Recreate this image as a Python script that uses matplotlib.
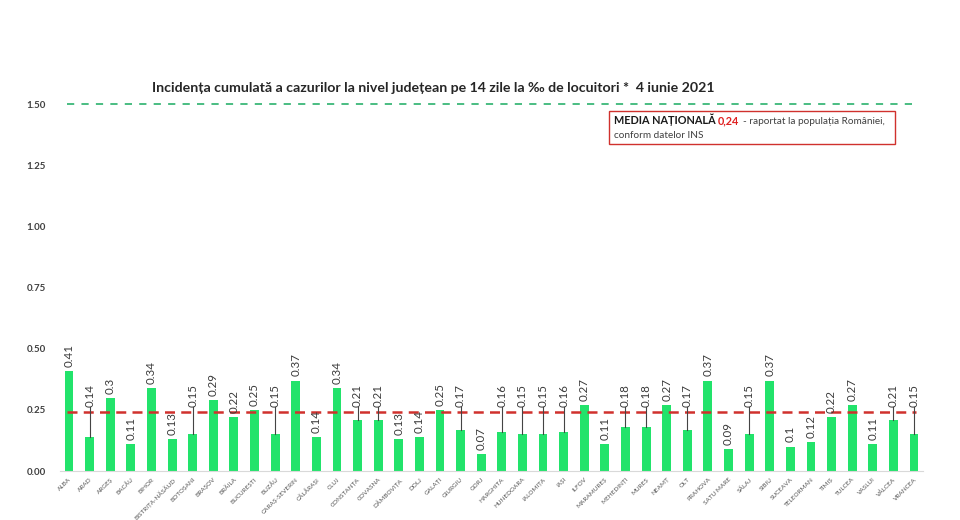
import matplotlib
matplotlib.use('Agg')
import matplotlib.pyplot as plt
from matplotlib.patches import Rectangle

counties = ["ALBA", "ARAD", "ARGEȘ", "BACĂU", "BIHOR", "BISTRIȚA-NĂSĂUD", "BOTOȘANI",
            "BRAȘOV", "BRĂILA", "BUCUREȘTI", "BUZĂU", "CARAȘ-SEVERIN", "CĂLĂRAȘI", "CLUJ",
            "CONSTANȚA", "COVASNA", "DÂMBOVIȚA", "DOLJ", "GALAȚI", "GIURGIU", "GORJ",
            "HARGHITA", "HUNEDOARA", "IALOMIȚA", "IAȘI", "ILFOV", "MARAMUREȘ", "MEHEDINȚI",
            "MUREȘ", "NEAMȚ", "OLT", "PRAHOVA", "SATU MARE", "SĂLAJ", "SIBIU", "SUCEAVA",
            "TELEORMAN", "TIMIȘ", "TULCEA", "VASLUI", "VÂLCEA", "VRANCEA"]
values = [0.41, 0.14, 0.3, 0.11, 0.34, 0.13, 0.15, 0.29, 0.22, 0.25, 0.15, 0.37, 0.14, 0.34,
          0.21, 0.21, 0.13, 0.14, 0.25, 0.17, 0.07, 0.16, 0.15, 0.15, 0.16, 0.27, 0.11, 0.18,
          0.18, 0.27, 0.17, 0.37, 0.09, 0.15, 0.37, 0.1, 0.12, 0.22, 0.27, 0.11, 0.21, 0.15]
value_labels = ["0.41", "0.14", "0.3", "0.11", "0.34", "0.13", "0.15", "0.29", "0.22", "0.25",
                "0.15", "0.37", "0.14", "0.34", "0.21", "0.21", "0.13", "0.14", "0.25", "0.17",
                "0.07", "0.16", "0.15", "0.15", "0.16", "0.27", "0.11", "0.18", "0.18", "0.27",
                "0.17", "0.37", "0.09", "0.15", "0.37", "0.1", "0.12", "0.22", "0.27", "0.11",
                "0.21", "0.15"]
leader_counties = ["ARAD", "BOTOȘANI", "BUZĂU", "CONSTANȚA", "COVASNA", "GIURGIU", "HARGHITA",
                   "HUNEDOARA", "IALOMIȚA", "IAȘI", "MEHEDINȚI", "MUREȘ", "OLT", "SĂLAJ",
                   "VÂLCEA", "VRANCEA"]
national_mean = 0.24
alert_threshold = 1.5
yticks = [0.0, 0.25, 0.5, 0.75, 1.0, 1.25, 1.5]
ytick_labels = ["0.00", "0.25", "0.50", "0.75", "1.00", "1.25", "1.50"]
title = "Incidența cumulată a cazurilor la nivel județean pe 14 zile la ‰ de locuitori *  4 iunie 2021"

plt.rcParams['font.family'] = ['Lato', 'DejaVu Sans']

fig = plt.figure(figsize=(9.6, 5.2), dpi=100)
ax = fig.add_axes([0.0625, 0.094, 0.899, 0.706])
n = len(counties)
x = list(range(n))
ax.bar(x, values, width=0.43, color='#22e36b', zorder=2)
ax.set_xlim(-0.44, n - 1 + 0.44)
ax.set_ylim(0, 1.5)

ax.hlines(alert_threshold, -0.1, n - 1 + 0.1, colors='#3cb878', linestyles=(0, (4, 4)),
          linewidth=1.3, clip_on=False, zorder=3)
ax.hlines(national_mean, -0.1, n - 1 + 0.1, colors='#d0312d', linestyles=(0, (4, 2.5)),
          linewidth=1.8, zorder=3)

lead_floor = national_mean + 0.02
for xi, v, lab, c in zip(x, values, value_labels, counties):
    if c in leader_counties:
        ty = max(v + 0.03, lead_floor)
        ax.plot([xi, xi], [v, ty], color='#444444', linewidth=0.8, zorder=4)
        ax.text(xi, ty, lab, rotation=90, ha='center', va='bottom', fontsize=8.3,
                color='#3a3a3a', zorder=5)
    else:
        ax.annotate(lab, (xi, v), xytext=(0, 3), textcoords='offset points', rotation=90,
                    ha='center', va='bottom', fontsize=8.3, color='#3a3a3a', zorder=5)

ax.set_xticks(x)
ax.set_xticklabels(counties, rotation=45, ha='right', rotation_mode='anchor',
                   fontsize=4.6, color='#555555')
ax.set_yticks(yticks)
ax.set_yticklabels(ytick_labels, fontsize=7, fontweight='bold', color='#404040')
ax.tick_params(axis='both', length=0)
ax.tick_params(axis='y', pad=10)
ax.tick_params(axis='x', pad=4)
for s in ['top', 'right', 'left']:
    ax.spines[s].set_visible(False)
ax.spines['bottom'].set_color('#d9d9d9')

fig.text(433 / 960, 1 - 88 / 520, title, ha='center', va='center', fontsize=10.2,
         fontweight='bold', color='#262626')

# national mean box
fig.patches.append(Rectangle((609 / 960, 1 - 144 / 520), 286 / 960, 33 / 520,
                             transform=fig.transFigure, fill=False, edgecolor='#d0312d',
                             linewidth=1.0))
renderer = fig.canvas.get_renderer()
by = 1 - 124 / 520
t1 = fig.text(614 / 960, by, "MEDIA NAȚIONALĂ ", fontsize=7.8, fontweight='bold',
              color='#1a1a1a', va='baseline', ha='left')
bb = t1.get_window_extent(renderer)
t2 = fig.text(bb.x1 / fig.bbox.width, by, "0,24", fontsize=7.8, fontweight='bold',
              color='#e02020', va='baseline', ha='left')
bb2 = t2.get_window_extent(renderer)
fig.text(bb2.x1 / fig.bbox.width + 0.003, by, "- raportat la populația României,", fontsize=7.2,
         color='#404040', va='baseline', ha='left')
fig.text(614 / 960, 1 - 138 / 520, "conform datelor INS", fontsize=7.2, color='#404040',
         va='baseline', ha='left')

fig.savefig('out.png', dpi=100)
